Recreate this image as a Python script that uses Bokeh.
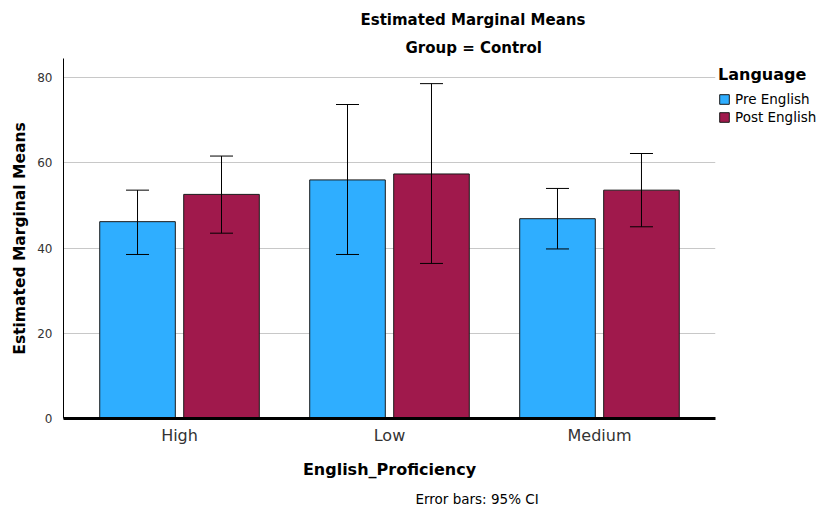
from bokeh.plotting import figure
from bokeh.models import (ColumnDataSource, FactorRange, Range1d, FixedTicker, Whisker,
                          Legend, LegendItem, Title)
from bokeh.transform import dodge
from bokeh.embed import file_html
from bokeh.resources import INLINE

# Estimated marginal means by English proficiency, with 95% CI limits
categories = ["High", "Low", "Medium"]
pre_mean = [46.2, 56.0, 46.9]
pre_lower = [38.5, 38.5, 39.8]
pre_upper = [53.6, 73.7, 54.0]
post_mean = [52.6, 57.4, 53.6]
post_lower = [43.5, 36.4, 45.0]
post_upper = [61.6, 78.6, 62.2]
y_ticks = [0, 20, 40, 60, 80]

FONT = "DejaVu Sans"
PRE_COLOR = "#2FAEFF"
POST_COLOR = "#A0194C"

source = ColumnDataSource(dict(
    cat=categories,
    pre=pre_mean, pre_lo=pre_lower, pre_hi=pre_upper,
    post=post_mean, post_lo=post_lower, post_hi=post_upper,
))

p = figure(frame_width=652, frame_height=360, output_backend="svg", toolbar_location=None,
           x_range=FactorRange(factors=categories, range_padding=0.035),
           y_range=Range1d(0, 84.5),
           min_border_left=63, min_border_right=105,
           min_border_top=58, min_border_bottom=94)
p.outline_line_color = None
p.background_fill_color = "white"
p.border_fill_color = "white"

# titles (first added sits closest to the plot)
p.add_layout(Title(text="Group = Control", align="left", offset=342,
                   text_font=FONT, text_font_size="15px", text_font_style="bold",
                   text_color="black", standoff=3), "above")
p.add_layout(Title(text="Estimated Marginal Means", align="left", offset=297,
                   text_font=FONT, text_font_size="15px", text_font_style="bold",
                   text_color="black", standoff=13), "above")

bar_w = 0.36
off = 0.2
r_pre = p.vbar(x=dodge("cat", -off, range=p.x_range), top="pre", width=bar_w, bottom=0,
               source=source, fill_color=PRE_COLOR, line_color="#1a1a1a", line_width=1)
r_post = p.vbar(x=dodge("cat", off, range=p.x_range), top="post", width=bar_w, bottom=0,
                source=source, fill_color=POST_COLOR, line_color="#1a1a1a", line_width=1)

# 95% CI whiskers drawn over the bars
for key, d in (("pre", -off), ("post", off)):
    w = Whisker(base=dodge("cat", d, range=p.x_range), upper=key + "_hi", lower=key + "_lo",
                source=source, line_color="black", line_width=1, level="annotation")
    w.upper_head.size = 23
    w.lower_head.size = 23
    w.upper_head.line_color = "black"
    w.lower_head.line_color = "black"
    p.add_layout(w)

# grid
p.xgrid.grid_line_color = None
p.ygrid.grid_line_color = "#c8c8c8"
p.ygrid.grid_line_width = 1
p.yaxis.ticker = FixedTicker(ticks=y_ticks)

# y axis
p.yaxis.axis_label = "Estimated Marginal Means"
p.yaxis.axis_label_text_font = FONT
p.yaxis.axis_label_text_font_size = "15.5px"
p.yaxis.axis_label_text_font_style = "bold"
p.yaxis.axis_label_text_color = "black"
p.yaxis.axis_label_standoff = 5
p.yaxis.major_label_text_font = FONT
p.yaxis.major_label_text_font_size = "12px"
p.yaxis.major_label_text_color = "#333333"
p.yaxis.major_label_standoff = 5
p.yaxis.major_tick_line_color = None
p.yaxis.minor_tick_line_color = None
p.yaxis.axis_line_color = "black"
p.yaxis.axis_line_width = 1

# x axis
p.xaxis.axis_label = "English_Proficiency"
p.xaxis.axis_label_text_font = FONT
p.xaxis.axis_label_text_font_size = "16px"
p.xaxis.axis_label_text_font_style = "bold"
p.xaxis.axis_label_text_color = "black"
p.xaxis.axis_label_standoff = 12
p.xaxis.major_label_text_font = FONT
p.xaxis.major_label_text_font_size = "16px"
p.xaxis.major_label_text_color = "#333333"
p.xaxis.major_label_standoff = 1
p.xaxis.major_tick_line_color = None
p.xaxis.axis_line_color = "black"
p.xaxis.axis_line_width = 3

# footnote
p.add_layout(Title(text="Error bars: 95% CI", align="left", offset=352,
                   text_font=FONT, text_font_size="13.5px", text_font_style="normal",
                   text_color="black", standoff=15), "below")

legend = Legend(items=[LegendItem(label="Pre English", renderers=[r_pre]),
                       LegendItem(label="Post English", renderers=[r_post])],
                title="Language", location=(3, 292))
legend.title_text_font = FONT
legend.title_text_font_size = "16px"
legend.title_text_font_style = "bold"
legend.title_text_color = "black"
legend.title_standoff = 6
legend.label_text_font = FONT
legend.label_text_font_size = "13.5px"
legend.label_text_color = "black"
legend.label_standoff = 5
legend.glyph_width = 12
legend.glyph_height = 12
legend.label_height = 18
legend.spacing = 0
legend.padding = 0
legend.margin = 0
legend.border_line_color = None
legend.background_fill_alpha = 0
p.add_layout(legend, "right")

open("out.html", "w").write(file_html(p, INLINE))
